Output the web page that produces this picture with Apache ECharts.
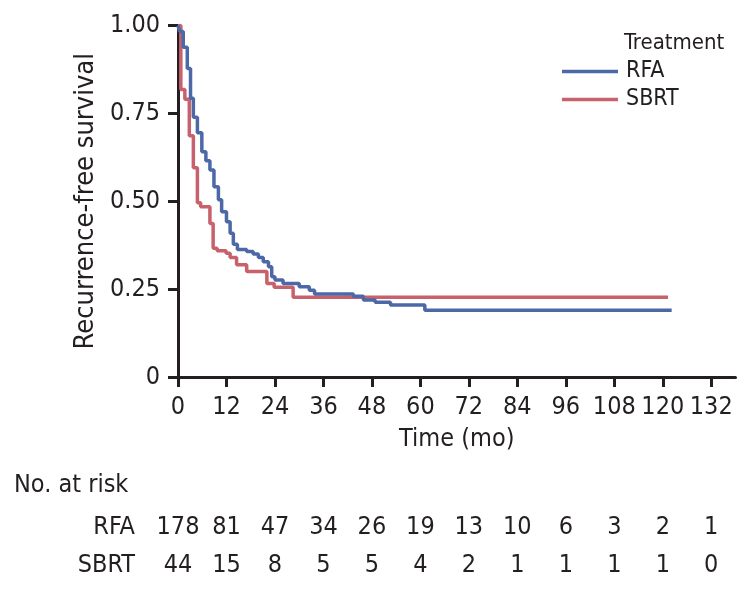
<!DOCTYPE html>
<html>
<head>
<meta charset="utf-8">
<script src="https://cdn.jsdelivr.net/npm/echarts@6/dist/echarts.min.js"></script>
<style>html,body{margin:0;padding:0;background:#fff}#c{width:749px;height:589px}</style>
</head>
<body>
<div id="c"></div>
<script>
// Kaplan-Meier step data (time in months, survival probability)
const rfaTimes  = [0, 0.4, 1.3, 2.3, 3.1, 3.8, 4.8, 5.9, 6.9, 7.9, 8.9, 10.0, 10.8, 12.0, 12.9, 13.7, 14.7, 17.0, 18.6, 19.9, 21.1, 22.4, 23.2, 24.0, 26.0, 30.0, 32.5, 33.8, 43.4, 45.9, 48.8, 52.6, 61.1, 122.2];
const rfaSurv   = [1.0, 0.983, 0.938, 0.878, 0.793, 0.739, 0.695, 0.641, 0.615, 0.589, 0.541, 0.504, 0.47, 0.442, 0.409, 0.378, 0.363, 0.357, 0.35, 0.34, 0.328, 0.314, 0.285, 0.276, 0.266, 0.257, 0.247, 0.236, 0.23, 0.219, 0.213, 0.205, 0.19, 0.19];
const sbrtTimes = [0, 0.7, 1.7, 2.8, 3.8, 4.8, 5.6, 7.9, 8.7, 9.7, 11.9, 12.9, 14.5, 17.0, 22.0, 23.8, 28.5, 121.3];
const sbrtSurv  = [1.0, 0.818, 0.79, 0.686, 0.595, 0.496, 0.484, 0.437, 0.366, 0.359, 0.352, 0.34, 0.319, 0.30, 0.266, 0.255, 0.227, 0.227];

const xTicks = [0, 12, 24, 36, 48, 60, 72, 84, 96, 108, 120, 132];
const yTicks = [0, 0.25, 0.5, 0.75, 1.0];
const riskGroups = ['SBRT', 'RFA'];
const riskRFA  = [178, 81, 47, 34, 26, 19, 13, 10, 6, 3, 2, 1];
const riskSBRT = [44, 15, 8, 5, 5, 4, 2, 1, 1, 1, 1, 0];

const FONT = '"DejaVu Sans Condensed", "Liberation Sans Narrow", sans-serif';
const TXT = '#231f20';
const BLUE = '#4c68a6';
const RED = '#c7616b';

const zip = (a, b) => a.map((v, i) => [v, b[i]]);

const chart = echarts.init(document.getElementById('c'), null, {renderer: 'canvas'});
const tickStyle = {show: true, length: 10, lineStyle: {color: TXT, width: 3}};
const riskLabel = {show: true, position: 'inside', formatter: p => p.data[2], fontFamily: FONT, fontSize: 25, color: TXT};
chart.setOption({
  animation: false,
  textStyle: {fontFamily: FONT, color: TXT},
  title: {
    text: 'Treatment', left: 619, top: 27,
    textStyle: {fontFamily: FONT, fontSize: 22, fontWeight: 'normal', color: TXT}
  },
  legend: {
    data: ['RFA', 'SBRT'], orient: 'vertical', left: 557, top: 55,
    icon: 'rect', itemWidth: 56, itemHeight: 3.5, itemGap: 5,
    textStyle: {fontFamily: FONT, fontSize: 23, color: TXT, padding: [0, 0, 0, 3]}
  },
  grid: [
    {left: 178, width: 557.5, top: 25.5, height: 351.5},
    {left: 178, width: 557.5, top: 508, height: 76}
  ],
  xAxis: [
    {
      type: 'value', gridIndex: 0, min: 0, max: 138, interval: 12,
      axisLine: {show: true, lineStyle: {color: TXT, width: 3}},
      axisTick: Object.assign({customValues: xTicks}, tickStyle),
      axisLabel: {customValues: xTicks, fontFamily: FONT, fontSize: 25, color: TXT, margin: 18},
      splitLine: {show: false},
      name: 'Time (mo)', nameLocation: 'middle', nameGap: 50,
      nameTextStyle: {fontFamily: FONT, fontSize: 25, color: TXT}
    },
    {
      type: 'value', gridIndex: 1, min: 0, max: 138,
      axisLine: {show: false}, axisTick: {show: false}, axisLabel: {show: false}, splitLine: {show: false}
    }
  ],
  yAxis: [
    {
      type: 'value', gridIndex: 0, min: 0, max: 1,
      axisLine: {show: true, lineStyle: {color: TXT, width: 3}},
      axisTick: Object.assign({customValues: yTicks}, tickStyle),
      axisLabel: {
        customValues: yTicks, fontFamily: FONT, fontSize: 25, color: TXT, margin: 18,
        formatter: v => v === 0 ? '0' : v.toFixed(2)
      },
      splitLine: {show: false},
      name: 'Recurrence-free survival', nameLocation: 'middle', nameGap: 77,
      nameTextStyle: {fontFamily: FONT, fontSize: 27, color: TXT}
    },
    {
      type: 'category', gridIndex: 1, data: riskGroups,
      axisLine: {show: false}, axisTick: {show: false}, splitLine: {show: false},
      axisLabel: {fontFamily: FONT, fontSize: 25, color: TXT, margin: 43},
      name: 'No. at risk', nameLocation: 'end', nameGap: 10,
      nameTextStyle: {fontFamily: FONT, fontSize: 25, color: TXT, align: 'left', padding: [0, 0, 0, -164]}
    }
  ],
  series: [
    {
      name: 'RFA', type: 'line', xAxisIndex: 0, yAxisIndex: 0, step: 'end', symbol: 'none',
      lineStyle: {color: BLUE, width: 3.5}, itemStyle: {color: BLUE},
      data: zip(rfaTimes, rfaSurv), z: 3
    },
    {
      name: 'SBRT', type: 'line', xAxisIndex: 0, yAxisIndex: 0, step: 'end', symbol: 'none',
      lineStyle: {color: RED, width: 3.5}, itemStyle: {color: RED},
      data: zip(sbrtTimes, sbrtSurv), z: 2
    },
    {
      name: 'riskRFA', type: 'scatter', xAxisIndex: 1, yAxisIndex: 1, symbolSize: 0,
      itemStyle: {opacity: 1},
      data: xTicks.map((t, i) => [t, 'RFA', riskRFA[i]]),
      label: riskLabel
    },
    {
      name: 'riskSBRT', type: 'scatter', xAxisIndex: 1, yAxisIndex: 1, symbolSize: 0,
      itemStyle: {opacity: 1},
      data: xTicks.map((t, i) => [t, 'SBRT', riskSBRT[i]]),
      label: riskLabel
    }
  ]
});
</script>
</body>
</html>
